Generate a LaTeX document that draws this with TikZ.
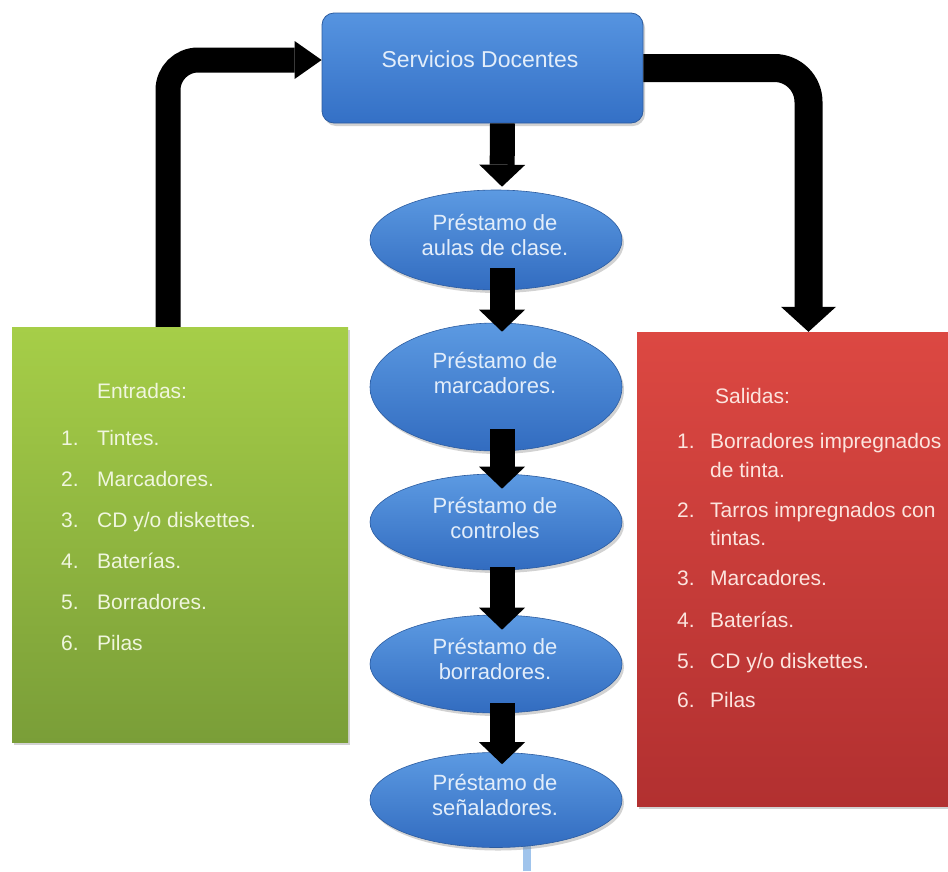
\documentclass[tikz,border=0pt]{standalone}
\usepackage{fontspec}
\setmainfont{Liberation Sans}
\usetikzlibrary{shapes.geometric,arrows.meta,calc,shadows}

\definecolor{boxTop}{RGB}{86,148,224}
\definecolor{boxBot}{RGB}{52,112,198}
\definecolor{boxEdge}{RGB}{44,92,160}
\definecolor{ellTop}{RGB}{92,154,226}
\definecolor{ellBot}{RGB}{50,108,192}
\definecolor{greenTop}{RGB}{166,206,72}
\definecolor{greenBot}{RGB}{122,158,56}
\definecolor{redTop}{RGB}{220,72,66}
\definecolor{redBot}{RGB}{178,48,48}
\definecolor{txtBlue}{RGB}{226,237,250}
\definecolor{txtGreen}{RGB}{240,246,222}
\definecolor{txtRed}{RGB}{252,228,222}
\definecolor{stemBlue}{RGB}{160,196,236}

\begin{document}
\begin{tikzpicture}[x=1pt,y=-1pt,
  softshadow/.style={drop shadow={opacity=0.35,shadow xshift=2pt,shadow yshift=-3pt}},
  headbox/.style={rectangle,rounded corners=12pt,draw=boxEdge,line width=0.8pt,
    top color=boxTop,bottom color=boxBot,minimum width=321pt,minimum height=110pt,
    inner sep=0pt,softshadow},
  stepell/.style={ellipse,draw=boxEdge,line width=0.6pt,top color=ellTop,bottom color=ellBot,
    minimum width=252pt,inner sep=0pt,softshadow},
  inbox/.style={rectangle,top color=greenTop,bottom color=greenBot,inner sep=0pt,softshadow},
  outbox/.style={rectangle,top color=redTop,bottom color=redBot,inner sep=0pt,softshadow},
  elltext/.style={anchor=base,text=txtBlue,inner sep=0pt,font=\fontsize{22}{26}\selectfont},
  intext/.style={anchor=base west,text=txtGreen,inner sep=0pt,font=\fontsize{21}{25}\selectfont},
  outtext/.style={anchor=base west,text=txtRed,inner sep=0pt,font=\fontsize{21}{25}\selectfont},
  bigflow/.style={draw=black,line width=25pt,rounded corners=30pt},
  stepflow/.style={draw=black,line width=25pt,
    -{Triangle[length=22pt,width=46pt,line width=0pt]}}
]
\clip (0,0) rectangle (948,871);
\fill[white] (0,0) rectangle (948,871);

% thin stem below the last step
\fill[stemBlue] (523,840) rectangle (531,871);

% side boxes
\node[inbox,minimum width=336pt,minimum height=415pt] (in) at (180,534.5) {};
\node[outbox,minimum width=323pt,minimum height=474pt] (out) at (798.5,569) {};

% header box
\node[headbox] (head) at (482.5,68) {};
\node[anchor=base,text=txtBlue,inner sep=0pt,font=\fontsize{23}{27}\selectfont]
  (headtxt) at (480,67) {Servicios Docentes};

% large loop arrows
\draw[bigflow,-{Triangle[length=27pt,width=38pt,line width=0pt]}]
  ($(in.north)+(-12,0)$) |- ($(head.west)+(0,-8)$);
\draw[line width=28pt,draw=black,rounded corners=34pt,-{Triangle[length=25pt,width=55pt,line width=0pt]}]
  (head.east) -| ($(out.north)+(10,0)$);

% chain of steps
\node[stepell,minimum height=100pt] (s1) at (496,240) {};
\node[stepell,minimum height=128pt] (s2) at (496,387) {};
\node[stepell,minimum height=96pt]  (s3) at (496,522) {};
\node[stepell,minimum height=98pt]  (s4) at (496,664) {};
\node[stepell,minimum height=95pt]  (s5) at (496,800) {};

\node[elltext] (s1a) at (495,230) {Préstamo de};
\node[elltext] (s1b) at (495,255) {aulas de clase.};
\node[elltext] (s2a) at (495,368) {Préstamo de};
\node[elltext] (s2b) at (495,393) {marcadores.};
\node[elltext] (s3a) at (495,513) {Préstamo de};
\node[elltext] (s3b) at (495,538) {controles};
\node[elltext] (s4a) at (495,654) {Préstamo de};
\node[elltext] (s4b) at (495,679) {borradores.};
\node[elltext] (s5a) at (495,790) {Préstamo de};
\node[elltext] (s5b) at (495,815) {señaladores.};

% arrows between steps
\draw[stepflow] ($(head.south)+(20,0)$) -- ($(s1.north)+(6,-3)$);
\draw[stepflow] ($(s1.south)+(6,-22)$) -- ($(s2.north)+(6,9)$);
\draw[stepflow] ($(s2.south)+(6,-22)$) -- ($(s3.north)+(6,15)$);
\draw[stepflow] ($(s3.south)+(6,-3)$) -- ($(s4.north)+(6,15)$);
\draw[stepflow] ($(s4.south)+(6,-10)$) -- ($(s5.north)+(6,12)$);

% inputs
\node[intext] (inh) at (97,398) {Entradas:};
\node[intext] (in1n) at (61,445) {1.};
\node[intext] (in1) at (97,445) {Tintes.};
\node[intext] (in2n) at (61,486) {2.};
\node[intext] (in2) at (97,486) {Marcadores.};
\node[intext] (in3n) at (61,527) {3.};
\node[intext] (in3) at (97,527) {CD y/o diskettes.};
\node[intext] (in4n) at (61,568) {4.};
\node[intext] (in4) at (97,568) {Baterías.};
\node[intext] (in5n) at (61,609) {5.};
\node[intext] (in5) at (97,609) {Borradores.};
\node[intext] (in6n) at (61,650) {6.};
\node[intext] (in6) at (97,650) {Pilas};

% outputs
\node[outtext] (outh) at (715,403) {Salidas:};
\node[outtext] (out1n) at (677,448) {1.};
\node[outtext] (out1) at (710,448) {Borradores impregnados};
\node[outtext] (out1c) at (710,477) {de tinta.};
\node[outtext] (out2n) at (677,517) {2.};
\node[outtext] (out2) at (710,517) {Tarros impregnados con};
\node[outtext] (out2c) at (710,545) {tintas.};
\node[outtext] (out3n) at (677,585) {3.};
\node[outtext] (out3) at (710,585) {Marcadores.};
\node[outtext] (out4n) at (677,627) {4.};
\node[outtext] (out4) at (710,627) {Baterías.};
\node[outtext] (out5n) at (677,668) {5.};
\node[outtext] (out5) at (710,668) {CD y/o diskettes.};
\node[outtext] (out6n) at (677,707) {6.};
\node[outtext] (out6) at (710,707) {Pilas};
\end{tikzpicture}
\end{document}
